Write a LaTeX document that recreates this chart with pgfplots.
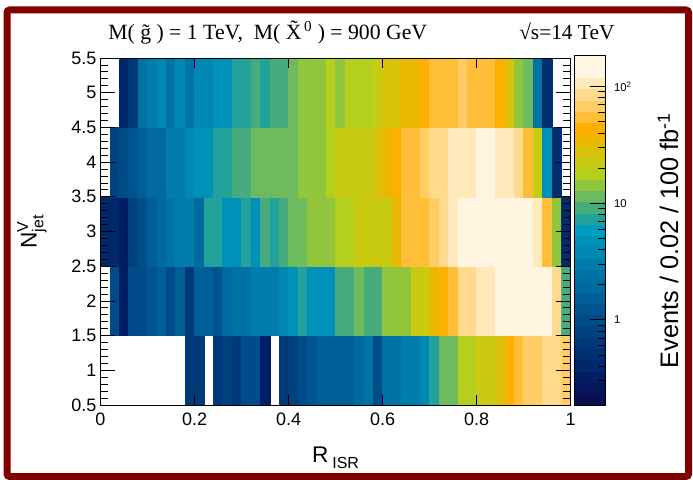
\documentclass[border=0pt]{standalone}
\usepackage{pgfplots}
\pgfplotsset{compat=1.18}
\usepackage{pgfplotstable}
\usepackage{amsmath}
\usepackage{fontspec}
\setmainfont{Liberation Sans}
\newfontfamily\timesf{Liberation Serif}
\definecolor{framered}{RGB}{128,0,0}

% events per bin (R_ISR bin centre, N_jet^V, events); nan = empty bin
\pgfplotstableread{
x y z
0.01 1 nan
0.03 1 nan
0.05 1 nan
0.07 1 nan
0.09 1 nan
0.11 1 nan
0.13 1 nan
0.15 1 nan
0.17 1 nan
0.19 1 0.661
0.21 1 0.661
0.23 1 nan
0.25 1 0.661
0.27 1 0.832
0.29 1 0.661
0.31 1 1.05
0.33 1 1.05
0.35 1 0.331
0.37 1 nan
0.39 1 0.661
0.41 1 0.832
0.43 1 1.05
0.45 1 1.32
0.47 1 1.66
0.49 1 1.66
0.51 1 1.66
0.53 1 1.66
0.55 1 2.09
0.57 1 2.63
0.59 1 1.05
0.61 1 2.63
0.63 1 2.63
0.65 1 3.31
0.67 1 3.31
0.69 1 4.17
0.71 1 6.61
0.73 1 10.5
0.75 1 10.5
0.77 1 16.6
0.79 1 16.6
0.81 1 20.9
0.83 1 20.9
0.85 1 26.3
0.87 1 41.7
0.89 1 52.5
0.91 1 66.1
0.93 1 66.1
0.95 1 83.2
0.97 1 83.2
0.99 1 66.1
0.01 2 nan
0.03 2 1.05
0.05 2 0.331
0.07 2 1.05
0.09 2 1.05
0.11 2 1.32
0.13 2 1.66
0.15 2 1.05
0.17 2 1.66
0.19 2 0.661
0.21 2 1.66
0.23 2 1.66
0.25 2 1.32
0.27 2 2.09
0.29 2 2.63
0.31 2 2.63
0.33 2 3.31
0.35 2 3.31
0.37 2 3.31
0.39 2 4.17
0.41 2 5.25
0.43 2 6.61
0.45 2 5.25
0.47 2 5.25
0.49 2 5.25
0.51 2 8.32
0.53 2 8.32
0.55 2 10.5
0.57 2 8.32
0.59 2 8.32
0.61 2 13.2
0.63 2 13.2
0.65 2 13.2
0.67 2 20.9
0.69 2 20.9
0.71 2 33.1
0.73 2 41.7
0.75 2 52.5
0.77 2 83.2
0.79 2 83.2
0.81 2 105
0.83 2 105
0.85 2 132
0.87 2 132
0.89 2 166
0.91 2 166
0.93 2 166
0.95 2 132
0.97 2 83.2
0.99 2 8.32
0.01 3 0.417
0.03 3 0.417
0.05 3 0.331
0.07 3 0.832
0.09 3 1.05
0.11 3 1.66
0.13 3 2.09
0.15 3 2.63
0.17 3 3.31
0.19 3 3.31
0.21 3 2.09
0.23 3 6.61
0.25 3 6.61
0.27 3 5.25
0.29 3 5.25
0.31 3 6.61
0.33 3 5.25
0.35 3 8.32
0.37 3 6.61
0.39 3 8.32
0.41 3 10.5
0.43 3 10.5
0.45 3 13.2
0.47 3 13.2
0.49 3 13.2
0.51 3 16.6
0.53 3 16.6
0.55 3 20.9
0.57 3 20.9
0.59 3 20.9
0.61 3 20.9
0.63 3 33.1
0.65 3 52.5
0.67 3 52.5
0.69 3 52.5
0.71 3 66.1
0.73 3 83.2
0.75 3 105
0.77 3 132
0.79 3 132
0.81 3 166
0.83 3 166
0.85 3 166
0.87 3 166
0.89 3 166
0.91 3 166
0.93 3 105
0.95 3 52.5
0.97 3 13.2
0.99 3 0.417
0.01 4 nan
0.03 4 0.832
0.05 4 1.05
0.07 4 1.32
0.09 4 1.66
0.11 4 2.09
0.13 4 2.09
0.15 4 3.31
0.17 4 3.31
0.19 4 4.17
0.21 4 5.25
0.23 4 5.25
0.25 4 6.61
0.27 4 6.61
0.29 4 8.32
0.31 4 8.32
0.33 4 10.5
0.35 4 10.5
0.37 4 10.5
0.39 4 10.5
0.41 4 10.5
0.43 4 13.2
0.45 4 13.2
0.47 4 13.2
0.49 4 16.6
0.51 4 20.9
0.53 4 20.9
0.55 4 20.9
0.57 4 20.9
0.59 4 26.3
0.61 4 33.1
0.63 4 41.7
0.65 4 52.5
0.67 4 52.5
0.69 4 66.1
0.71 4 83.2
0.73 4 83.2
0.75 4 105
0.77 4 105
0.79 4 105
0.81 4 132
0.83 4 132
0.85 4 105
0.87 4 105
0.89 4 83.2
0.91 4 52.5
0.93 4 20.9
0.95 4 5.25
0.97 4 0.525
0.99 4 nan
0.01 5 nan
0.03 5 nan
0.05 5 0.417
0.07 5 0.661
0.09 5 2.63
0.11 5 3.31
0.13 5 4.17
0.15 5 2.63
0.17 5 4.17
0.19 5 2.63
0.21 5 4.17
0.23 5 4.17
0.25 5 5.25
0.27 5 5.25
0.29 5 6.61
0.31 5 6.61
0.33 5 8.32
0.35 5 6.61
0.37 5 8.32
0.39 5 8.32
0.41 5 10.5
0.43 5 13.2
0.45 5 13.2
0.47 5 13.2
0.49 5 16.6
0.51 5 13.2
0.53 5 16.6
0.55 5 16.6
0.57 5 16.6
0.59 5 20.9
0.61 5 26.3
0.63 5 26.3
0.65 5 33.1
0.67 5 33.1
0.69 5 41.7
0.71 5 52.5
0.73 5 52.5
0.75 5 52.5
0.77 5 66.1
0.79 5 52.5
0.81 5 52.5
0.83 5 52.5
0.85 5 41.7
0.87 5 26.3
0.89 5 13.2
0.91 5 10.5
0.93 5 2.63
0.95 5 0.525
0.97 5 nan
0.99 5 nan
}\histdata

\begin{document}
\begin{tikzpicture}[x=0.75pt,y=0.75pt]
\path[use as bounding box] (0,0) rectangle (693,479);
\draw[framered, line width=5.25pt, rounded corners=2pt] (7,2.5) rectangle (688.5,469);
\node[anchor=base west, inner sep=0pt, font=\timesf\fontsize{16.3}{19}\selectfont] at (108,439)
  {M(\ \~{g}\ ) = 1 TeV,\ \ M(\ \~{X}\textsuperscript{\,0}\ ) = 900 GeV};
\node[anchor=base west, inner sep=0pt, font=\timesf\fontsize{16}{19}\selectfont] at (519,439)
  {√s=14 TeV};
\begin{axis}[
  at={(75.375pt,55.5pt)}, anchor=south west,
  scale only axis, width=352.65pt, height=260.25pt,
  xmin=0, xmax=1, ymin=0.5, ymax=5.5,
  xtick={0,0.2,0.4,0.6,0.8,1},
  ytick={0.5,1,1.5,2,2.5,3,3.5,4,4.5,5,5.5},
  minor y tick num=4,
  tick align=inside,
  axis on top,
  axis line style={black, line width=0.6pt},
  xtick style={black, line width=0.6pt, /pgfplots/major tick length=7.5pt},
  ytick style={black, line width=0.6pt, /pgfplots/major tick length=11pt, /pgfplots/minor tick length=5.5pt},
  ticklabel style={font=\fontsize{13.5}{15}\selectfont},
  xticklabel style={yshift=-2.5pt},
  yticklabel style={xshift=0.5pt},
  /pgf/number format/assume math mode=true,
  xlabel={R\,\raisebox{-0.55ex}{\fontsize{12}{14}\selectfont ISR}},
  ylabel={N$^{\text{V}}_{\text{jet}}$},
  xlabel style={font=\fontsize{17}{19}\selectfont, at={(axis description cs:0.5,0)}, anchor=base, yshift=-42.75pt},
  ylabel style={font=\fontsize{17}{19}\selectfont, at={([xshift=-51.4pt]axis description cs:0,0.5)}, anchor=center},
  colormap={rootpal}{
    rgb255=(10,15,80) rgb255=(5,22,90) rgb255=(0,30,100) rgb255=(0,40,106)
    rgb255=(0,48,112) rgb255=(0,56,120) rgb255=(0,65,128) rgb255=(0,75,137)
    rgb255=(0,85,143) rgb255=(0,95,150) rgb255=(0,105,158) rgb255=(0,115,165)
    rgb255=(0,125,172) rgb255=(0,135,178) rgb255=(0,145,185) rgb255=(0,155,190)
    rgb255=(35,162,155) rgb255=(70,172,125) rgb255=(110,187,95) rgb255=(145,197,60)
    rgb255=(180,207,30) rgb255=(200,203,18) rgb255=(218,193,10) rgb255=(236,183,2)
    rgb255=(255,175,0) rgb255=(255,190,55) rgb255=(255,205,100) rgb255=(255,218,142)
    rgb255=(255,232,185) rgb255=(255,245,225) rgb255=(255,245,225)},
  colormap access=piecewise constant,
  point meta min=-0.73, point meta max=2.27,
  unbounded coords=jump,
  colorbar right,
  colorbar style={
    scale only axis,
    at={(parent axis.south east)}, anchor=south west, xshift=-5.75pt,
    width=23.25pt, height=262.5pt,
    ytick={0,1,2}, yticklabels={1,10,10$^{\text{2}}$},
    minor ytick={-0.523,-0.398,-0.301,-0.222,-0.155,-0.097,-0.046,0.301,0.477,0.602,0.699,0.778,0.845,0.903,0.954,1.301,1.477,1.602,1.699,1.778,1.845,1.903,1.954},
    ytick pos=right, yticklabel pos=right,
    tick align=inside,
    ytick style={black, line width=0.6pt, /pgfplots/major tick length=11.5pt, /pgfplots/minor tick length=5.75pt},
    axis line style={black, line width=0.6pt},
    yticklabel style={font=\fontsize{8.5}{10}\selectfont, anchor=west, xshift=3pt},
    ylabel={Events / 0.02 / 100 fb$^{\text{-1}}$},
    ylabel style={font=\fontsize{19}{21}\selectfont, at={([xshift=47pt]rel axis cs:1,0.47)}, anchor=center},
  },
]
\addplot[matrix plot*, mesh/cols=50, point meta={log10(\thisrow{z})}] table[x=x, y=y] {\histdata};
\end{axis}
\end{tikzpicture}
\end{document}
